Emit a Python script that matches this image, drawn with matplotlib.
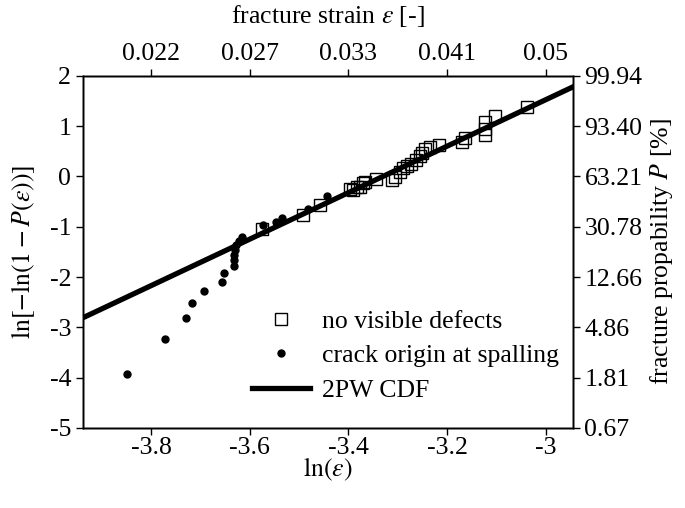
import numpy as np
import matplotlib
matplotlib.use('Agg')
import matplotlib.pyplot as plt

# 数据：ln(ε) 与 ln[-ln(1-P)]
sq_x = [-3.575, -3.491, -3.458, -3.397, -3.390, -3.383, -3.376, -3.370, -3.366,
        -3.343, -3.312, -3.305, -3.295, -3.289, -3.282, -3.272, -3.262, -3.255,
        -3.251, -3.245, -3.235, -3.216, -3.170, -3.164, -3.123, -3.123, -3.123,
        -3.103, -3.038]
sq_y = [-1.05, -0.76, -0.57, -0.26, -0.27, -0.21, -0.22, -0.13, -0.12,
        -0.06, -0.07, -0.02, 0.08, 0.16, 0.20, 0.24, 0.32, 0.40,
        0.47, 0.54, 0.58, 0.62, 0.69, 0.76, 0.82, 0.95, 1.07,
        1.19, 1.37]

dot_x = [-3.848, -3.772, -3.730, -3.717, -3.693, -3.657, -3.653, -3.632, -3.632,
         -3.631, -3.630, -3.627, -3.622, -3.616, -3.573, -3.547, -3.535, -3.481,
         -3.443]
dot_y = [-3.93, -3.23, -2.81, -2.52, -2.28, -2.09, -1.92, -1.78, -1.67,
         -1.57, -1.47, -1.37, -1.29, -1.21, -0.97, -0.90, -0.83, -0.64,
         -0.39]

# 2PW 拟合参数
weibull_m = 4.615
ln_eps0 = -3.3296

x_ticks = [-3.8, -3.6, -3.4, -3.2, -3.0]
y_ticks = [-5, -4, -3, -2, -1, 0, 1, 2]
x_lim = (-3.9385, -2.945)
y_lim = (-5, 2)

plt.rcParams['font.family'] = ['Liberation Serif', 'DejaVu Serif']
plt.rcParams['mathtext.fontset'] = 'stix'
plt.rcParams['axes.unicode_minus'] = False
plt.rcParams['font.size'] = 18.5

fig = plt.figure(figsize=(6.85, 5.08), dpi=100)
ax = fig.add_axes([0.121, 0.1575, 0.715, 0.6935])

ax.plot(sq_x, sq_y, 's', mfc='none', mec='black', mew=1.0, ms=8.5,
        label='no visible defects', zorder=2)
ax.plot(dot_x, dot_y, 'o', color='black', ms=5, label='crack origin at spalling', zorder=4)
lx = np.array(x_lim)
ax.plot(lx, weibull_m * (lx - ln_eps0), '-', color='black', lw=3.8,
        label='2PW CDF', zorder=3)

ax.set_xlim(x_lim)
ax.set_ylim(y_lim)
ax.set_xticks(x_ticks)
ax.set_xticklabels(['%g' % t for t in x_ticks])
ax.set_yticks(y_ticks)
ax.set_yticklabels(['%d' % t for t in y_ticks])
ax.set_xlabel(r'$\ln(\varepsilon)$', labelpad=-2)
ax.set_ylabel(r'$\ln[-\ln(1-P(\varepsilon))]$', labelpad=9)
ax.tick_params(direction='out', length=5, width=1)
ax.tick_params(axis='x', pad=1.5)

# 顶部坐标：应变
ax_top = ax.twiny()
ax_top.set_xlim(x_lim)
ax_top.set_xticks(x_ticks)
ax_top.set_xticklabels(['%g' % round(np.exp(t), 3) for t in x_ticks])
ax_top.set_xlabel(r'fracture strain $\varepsilon$ [-]', labelpad=14)
ax_top.tick_params(direction='out', length=5, width=1, pad=3)

# 右侧坐标：断裂概率
ax_r = ax.twinx()
ax_r.set_ylim(y_lim)
ax_r.set_yticks(y_ticks)
ax_r.set_yticklabels(['%.2f' % (100 * (1 - np.exp(-np.exp(t)))) for t in y_ticks])
ax_r.set_ylabel(r'fracture propability $P$ [%]', labelpad=4)
ax_r.tick_params(direction='out', length=5, width=1)

for a in (ax, ax_top, ax_r):
    for s in a.spines.values():
        s.set_linewidth(1.0)

ax.legend(loc='lower left', bbox_to_anchor=(0.325, 0.045), frameon=False,
          handlelength=2.25, handletextpad=0.47, labelspacing=0.45, borderaxespad=0)

fig.savefig('out.png', dpi=100)
